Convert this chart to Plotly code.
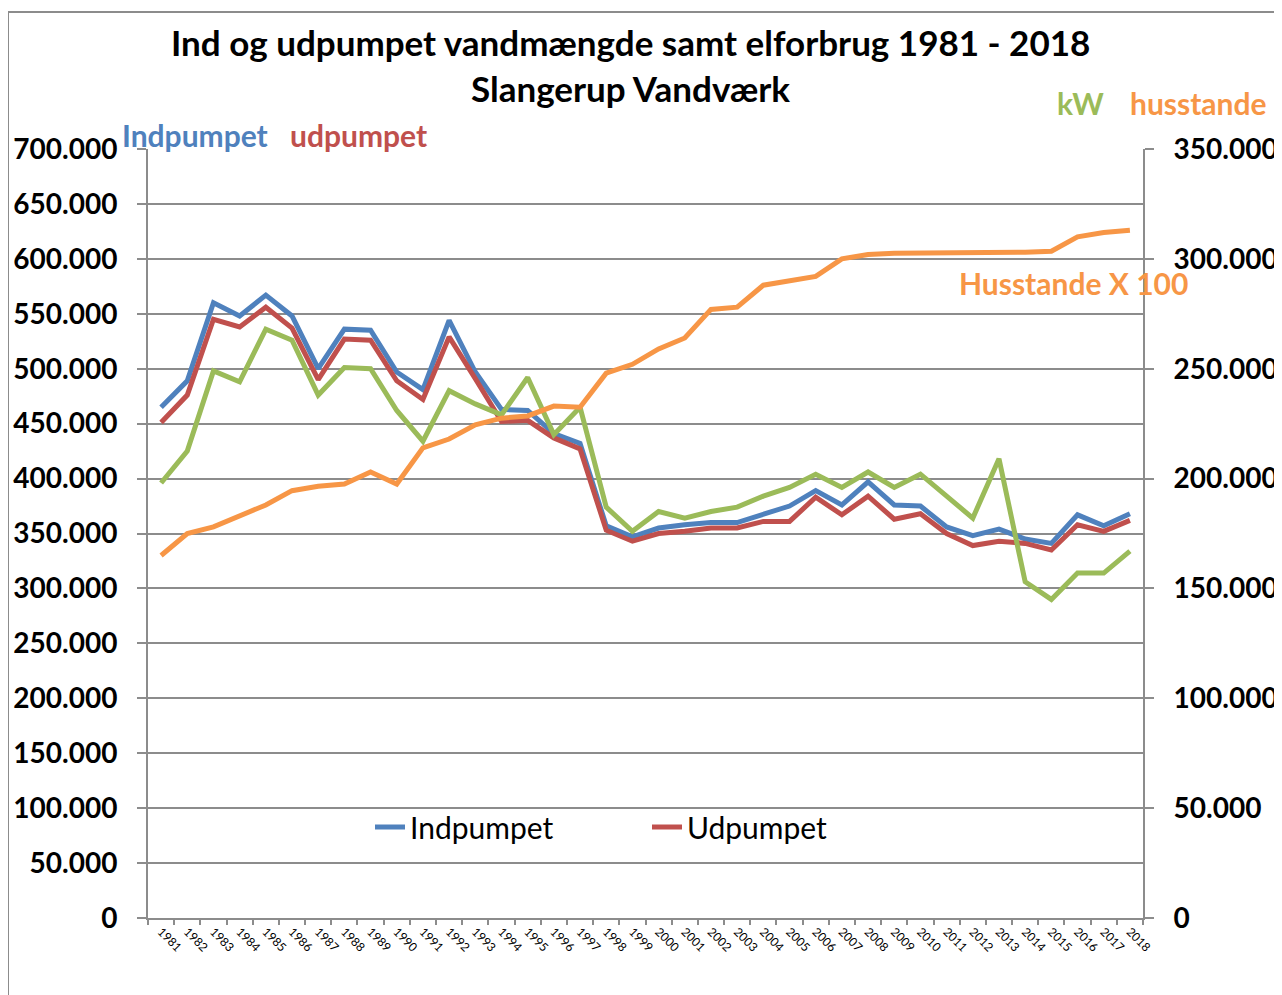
import plotly.graph_objects as go

years = [str(y) for y in range(1981, 2019)]

indpumpet = [465000, 489000, 560000, 548000, 567000, 548000, 500000, 536000, 535000, 497000,
             481000, 544000, 497000, 463000, 462000, 441000, 432000, 357000, 347000, 355000,
             358000, 360000, 360000, 367000, 375000, 389000, 376000, 397000, 376000, 375000,
             356000, 348000, 354000, 345000, 341000, 367000, 357000, 368000]

udpumpet = [451000, 476000, 545000, 538000, 556000, 537000, 490000, 527000, 526000, 489000,
            472000, 529000, 491000, 452000, 453000, 437000, 427000, 353000, 343000, 350000,
            352000, 355000, 355000, 361000, 361000, 383000, 367000, 384000, 363000, 368000,
            350000, 339000, 343000, 341000, 335000, 358000, 352000, 362000]

kw = [198000, 212500, 249000, 244000, 268000, 263000, 238000, 250500, 250000, 231000,
      217000, 240000, 234000, 229000, 246000, 220000, 232500, 187000, 176000, 185000,
      182000, 185000, 187000, 192000, 196000, 202000, 196000, 203000, 196000, 202000,
      192000, 182000, 209000, 153000, 145000, 157000, 157000, 167000]

husstande_x100 = [165000, 175000, 178000, 183000, 188000, 194500, 196500, 197500, 203000, 197500,
                  214000, 218000, 224500, 227500, 228500, 233000, 232500, 248000, 252000, 259000,
                  264000, 277000, 278000, 288000, 290000, 292000, 300000, 302000, 302500, 302500,
                  302500, 302500, 303000, 303000, 303500, 310000, 312000, 313000]

BLUE = "#4F81BD"
RED = "#C0504D"
GREEN = "#9BBB59"
ORANGE = "#F79646"
GRID = "#8C8C8C"
FONT = "Lato"

fig = go.Figure()
fig.add_trace(go.Scatter(x=years, y=indpumpet, name="Indpumpet", mode="lines",
                         line=dict(color=BLUE, width=5)))
fig.add_trace(go.Scatter(x=years, y=udpumpet, name="Udpumpet", mode="lines",
                         line=dict(color=RED, width=5)))
fig.add_trace(go.Scatter(x=years, y=kw, name="kW", mode="lines", yaxis="y2", showlegend=False,
                         line=dict(color=GREEN, width=5)))
fig.add_trace(go.Scatter(x=years, y=husstande_x100, name="husstande", mode="lines", yaxis="y2",
                         showlegend=False, line=dict(color=ORANGE, width=5)))

# page offset of the figure (body margin)
O = 8
L, R, T, B = 148 - O, 1143 - O, 149 - O, 918 - O
W, H = 1282 - O, 995 - O
pw, ph = R - L, B - T

def px(x):
    return (x - O - L) / pw

def py(y):
    return (B - (y - O)) / ph

annotations = [
    dict(text="Ind og udpumpet vandmængde samt elforbrug 1981 - 2018", x=px(630), y=py(42),
         font=dict(size=35, color="black", family=FONT, weight="bold")),
    dict(text="Slangerup Vandværk", x=px(630), y=py(88),
         font=dict(size=35, color="black", family=FONT, weight="bold")),
]
for a in annotations:
    a.update(xref="paper", yref="paper", xanchor="center", yanchor="middle", showarrow=False)

labels = [
    ("Indpumpet", 120, 135, BLUE),
    ("udpumpet", 288, 135, RED),
    ("kW", 1055, 103, GREEN),
    ("husstande", 1128, 103, ORANGE),
    ("Husstande X 100", 957, 283, ORANGE),
]
for txt, x, y, c in labels:
    annotations.append(dict(text=txt, x=px(x), y=py(y), xref="paper", yref="paper",
                            xanchor="left", yanchor="middle", showarrow=False,
                            font=dict(size=30, color=c, family=FONT, weight="bold")))

fig.update_layout(
    width=W, height=H,
    margin=dict(l=L, r=W - R, t=T, b=H - B, autoexpand=False),
    paper_bgcolor="white", plot_bgcolor="white",
    separators=",.",
    font=dict(family=FONT, color="black"),
    annotations=annotations,
    legend=dict(orientation="h", x=px(370), y=py(827), xanchor="left", yanchor="middle",
                font=dict(size=30, family=FONT, color="black"), bgcolor="rgba(0,0,0,0)",
                entrywidth=232, itemwidth=30),
    xaxis=dict(type="category", showgrid=False, showline=True, linecolor=GRID, linewidth=2,
               ticks="outside", tickson="boundaries", ticklen=5, tickcolor=GRID, tickwidth=1.5,
               tickangle=45, tickfont=dict(size=12, family=FONT, color="black"),
               range=[-0.5, len(years) - 0.5], zeroline=False, automargin=False),
    yaxis=dict(range=[0, 700000], dtick=50000, tickformat=",d", showgrid=True, gridcolor=GRID,
               gridwidth=2, showline=True, linecolor=GRID, linewidth=2, ticks="outside",
               ticklen=9, tickcolor=GRID, tickwidth=2, zeroline=False, automargin=False,
               tickfont=dict(size=28, family=FONT, color="black", weight="bold"),
               ticklabelstandoff=14),
    yaxis2=dict(range=[0, 350000], dtick=50000, tickformat=",d", overlaying="y", side="right",
                showgrid=False, showline=True, linecolor=GRID, linewidth=2, ticks="outside",
                ticklen=9, tickcolor=GRID, tickwidth=2, zeroline=False, automargin=False,
                tickfont=dict(size=28, family=FONT, color="black", weight="bold"),
                ticklabelstandoff=14),
    shapes=[dict(type="rect", xref="paper", yref="paper", x0=px(8), x1=px(1281), y0=py(1005),
                 y1=py(12), line=dict(color="#8C8C8C", width=2), layer="below")],
)

fig.write_html("out.html")
